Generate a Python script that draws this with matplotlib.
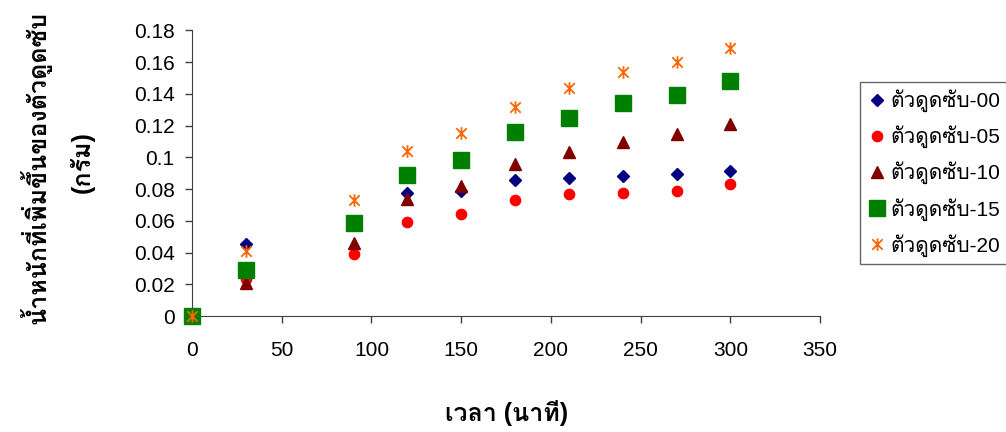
import matplotlib
matplotlib.use('Agg')
import matplotlib.pyplot as plt
from matplotlib.path import Path

plt.rcParams['font.family'] = ['Liberation Sans', 'Loma']

# time in minutes
time_min = [0, 30, 90, 120, 150, 180, 210, 240, 270, 300]

# weight gain (g)
ads_00 = [0, 0.0453, 0.059, 0.0773, 0.079, 0.0858, 0.0872, 0.0885, 0.0896, 0.0917]
ads_05 = [0, 0.0236, 0.039, 0.059, 0.0645, 0.0733, 0.0767, 0.0778, 0.0788, 0.0832]
ads_10 = [0, 0.021, 0.046, 0.0735, 0.082, 0.0959, 0.1037, 0.110, 0.1146, 0.121]
ads_15 = [0, 0.0289, 0.0588, 0.0891, 0.0986, 0.1157, 0.125, 0.134, 0.1395, 0.148]
ads_20 = [0, 0.0409, 0.0729, 0.1041, 0.1153, 0.1315, 0.1437, 0.1538, 0.160, 0.169]

series_labels = ['ตัวดูดซับ-00', 'ตัวดูดซับ-05', 'ตัวดูดซับ-10', 'ตัวดูดซับ-15', 'ตัวดูดซับ-20']

xticks = [0, 50, 100, 150, 200, 250, 300, 350]
yticks = [0, 0.02, 0.04, 0.06, 0.08, 0.1, 0.12, 0.14, 0.16, 0.18]
ytick_labels = ['0', '0.02', '0.04', '0.06', '0.08', '0.1', '0.12', '0.14', '0.16', '0.18']

# excel style star: an x with a vertical bar through it
star = Path([(-1, -1), (1, 1), (-1, 1), (1, -1), (0, -1.2), (0, 1.2)],
            [Path.MOVETO, Path.LINETO, Path.MOVETO, Path.LINETO, Path.MOVETO, Path.LINETO])

axis_col = '#404040'

fig = plt.figure(figsize=(10.06, 4.32), dpi=100)
ax = fig.add_axes([0.1909, 0.2685, 0.6243, 0.6609])

ax.plot(time_min, ads_00, ls='none', marker='D', ms=6, color='#000080', label=series_labels[0], clip_on=False, zorder=3)
ax.plot(time_min, ads_05, ls='none', marker='o', ms=7.4, color='#FF0000', label=series_labels[1], clip_on=False, zorder=4)
ax.plot(time_min, ads_10, ls='none', marker='^', ms=8.5, color='#800000', label=series_labels[2], clip_on=False, zorder=5)
ax.plot(time_min, ads_15, ls='none', marker='s', ms=11.5, color='#008000', label=series_labels[3], clip_on=False, zorder=6)
ax.plot(time_min, ads_20, ls='none', marker=star, ms=9, mew=1.3, color='#FF6600', label=series_labels[4], clip_on=False, zorder=7)

ax.set_xlim(0, 350)
ax.set_ylim(0, 0.18)
ax.set_xticks(xticks)
ax.set_yticks(yticks)
ax.set_yticklabels(ytick_labels)
ax.tick_params(labelsize=15, length=5, width=1, direction='out', color=axis_col)
ax.tick_params(axis='x', pad=13)
ax.tick_params(axis='y', pad=7.5)
ax.spines['top'].set_visible(False)
ax.spines['right'].set_visible(False)
ax.spines['left'].set_color(axis_col)
ax.spines['bottom'].set_color(axis_col)

fig.text(507/1006, 1 - 413/432, 'เวลา (นาที)', fontsize=18, fontweight='bold', ha='center', va='center')
fig.text(36/1006, 1 - 168/432, 'น้ำหนักที่เพิ่มขึ้นของตัวดูดซับ', fontsize=18, fontweight='bold', rotation=90, ha='center', va='center')
fig.text(82/1006, 1 - 162/432, '(กรัม)', fontsize=18, fontweight='bold', rotation=90, ha='center', va='center')

# legend runs off the right edge in the original too
leg = ax.legend(loc='upper left', bbox_to_anchor=(860/1006, 1 - 82/432), bbox_transform=fig.transFigure,
                fontsize=15, frameon=True, fancybox=False, edgecolor=axis_col, handlelength=0.9,
                handletextpad=0.2, labelspacing=0.65, borderpad=0.35, borderaxespad=0)
leg.get_frame().set_linewidth(1)

fig.savefig('out.png', dpi=100)
